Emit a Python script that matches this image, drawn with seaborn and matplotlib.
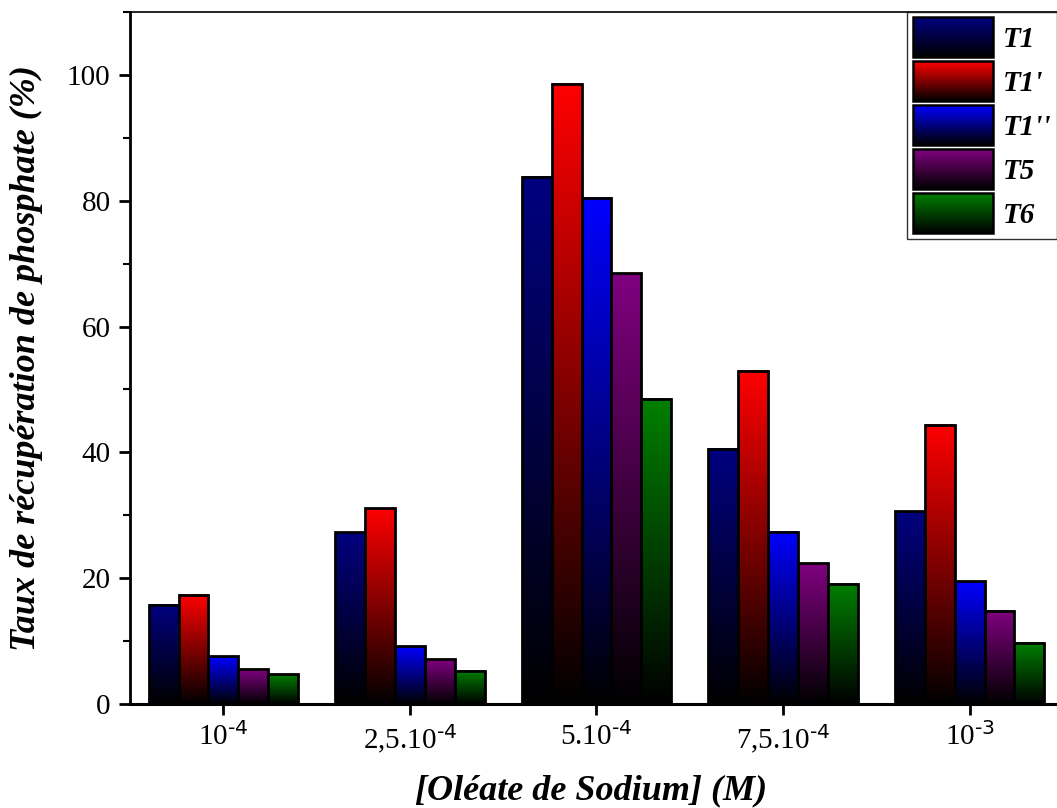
import numpy as np
import pandas as pd
import seaborn as sns
import matplotlib.pyplot as plt
from matplotlib.patches import Rectangle
from matplotlib.legend_handler import HandlerBase
from matplotlib.ticker import MultipleLocator
import matplotlib.colors as mcolors

concentrations = ['10$^{\\text{-4}}$', '2,5.10$^{\\text{-4}}$', '5.10$^{\\text{-4}}$',
                  '7,5.10$^{\\text{-4}}$', '10$^{\\text{-3}}$']
series = ['T1', "T1'", "T1''", 'T5', 'T6']
colors = ['#000080', '#FF0000', '#0000FF', '#800080', '#008000']

t1 = [15.8, 27.3, 83.8, 40.6, 30.6]
t1p = [17.4, 31.1, 98.6, 53.0, 44.4]
t1pp = [7.6, 9.2, 80.5, 27.4, 19.5]
t5 = [5.5, 7.1, 68.5, 22.4, 14.8]
t6 = [4.7, 5.3, 48.5, 19.1, 9.7]

vals = [t1, t1p, t1pp, t5, t6]
df = pd.DataFrame([(c, s, v[i]) for s, v in zip(series, vals) for i, c in enumerate(concentrations)],
                  columns=['conc', 'serie', 'taux'])

sns.set_style('ticks')
plt.rcParams['font.family'] = ['Liberation Serif', 'DejaVu Serif']
plt.rcParams['mathtext.default'] = 'regular'
for k in ['text.color', 'axes.labelcolor', 'xtick.color', 'ytick.color', 'axes.edgecolor']:
    plt.rcParams[k] = 'black'

fig = plt.figure(figsize=(10.57, 8.08), dpi=100)
ax = fig.add_axes([130/1057, 104/808, 927/1057, 692/808])

sns.barplot(data=df, x='conc', y='taux', hue='serie', order=concentrations, hue_order=series,
            palette=colors, edgecolor='black', linewidth=2, ax=ax, legend=False)


def gradient(color, n=256):
    rgb = np.array(mcolors.to_rgb(color))
    f = np.linspace(0, 1, n)[:, None]
    return (f * rgb)[:, None, :]


# vertical gradient black -> colour inside each bar
for cont, col in zip(ax.containers, colors):
    for bar in cont:
        x0, w, h = bar.get_x(), bar.get_width(), bar.get_height()
        ax.imshow(gradient(col), extent=[x0, x0 + w, 0, h], origin='lower',
                  aspect='auto', zorder=bar.get_zorder() - 0.1, interpolation='bilinear')
        bar.set_facecolor('none')


class GradHandler(HandlerBase):
    def create_artists(self, legend, orig_handle, xdescent, ydescent, width, height, fontsize, trans):
        rgb = np.array(mcolors.to_rgb(orig_handle.get_facecolor()))
        n = 40
        arts = []
        for i in range(n):
            f = (i + 0.5) / n
            arts.append(Rectangle((-xdescent, -ydescent + height * i / n), width, height / n * 1.05,
                                  facecolor=f * rgb, edgecolor='none', transform=trans))
        arts.append(Rectangle((-xdescent, -ydescent), width, height, facecolor='none',
                              edgecolor='black', linewidth=1.8, transform=trans))
        return arts


handles = [Rectangle((0, 0), 1, 1, facecolor=c) for c in colors]
leg = ax.legend(handles, series, loc='upper right', borderaxespad=0, fancybox=False,
                handler_map={Rectangle: GradHandler()}, handlelength=2.75, handleheight=1.73,
                labelspacing=0.14, handletextpad=0.35, borderpad=0.18,
                prop={'size': 21, 'weight': 'bold', 'style': 'italic'})
leg.get_frame().set_edgecolor('black')
leg.get_frame().set_linewidth(1.0)

ax.set_xlim(-0.5, 4.468)
ax.set_ylim(0, 110)
ax.yaxis.set_major_locator(MultipleLocator(20))
ax.yaxis.set_minor_locator(MultipleLocator(10))
ax.tick_params(axis='both', which='major', direction='out', length=8, width=2, labelsize=21, pad=6)
ax.tick_params(axis='x', which='major', pad=5)
ax.tick_params(axis='y', which='minor', direction='out', length=5, width=1.5)
ax.spines['right'].set_visible(False)
ax.spines['left'].set_linewidth(2)
ax.spines['bottom'].set_linewidth(2.2)
ax.spines['top'].set_linewidth(1.2)

ax.set_xlabel('[Oléate de Sodium] (M)', fontsize=26, fontweight='bold', fontstyle='italic')
ax.set_ylabel('Taux de récupération de phosphate (%)', fontsize=26, fontweight='bold', fontstyle='italic')
ax.xaxis.set_label_coords(0.497, -0.101)
ax.yaxis.set_label_coords(-0.094, 0.5)

plt.savefig('out.png', dpi=100)
